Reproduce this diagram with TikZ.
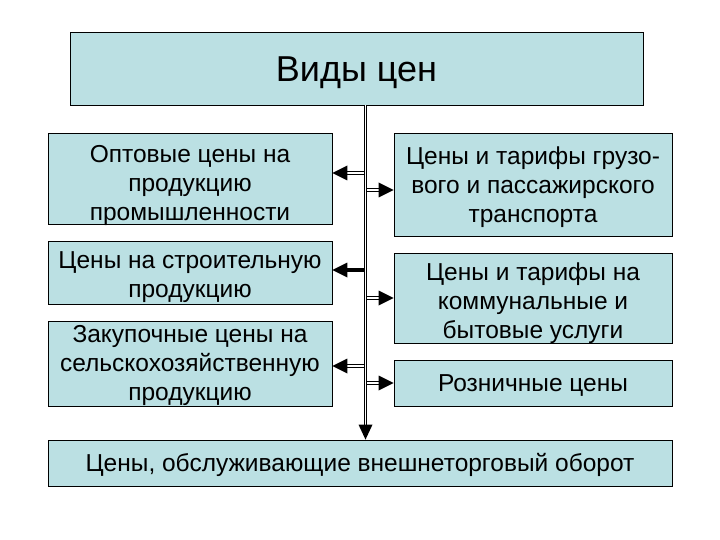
\documentclass[tikz,border=0pt]{standalone}
\usepackage{fontspec}
\setmainfont{Liberation Sans}
\definecolor{vcfill}{RGB}{187,224,227}
% box text: rows of fixed pitch, lowered into the box without changing its size
\newcommand{\vctext}[2][-8.5pt]{\raisebox{#1}[0pt][0pt]{\begin{tabular}{@{}c@{}}#2\end{tabular}}}
\tikzset{
  vcbox/.style={fill=vcfill, draw=black, line width=0.8pt, inner sep=0pt,
    font=\fontsize{24.5}{29}\selectfont},
  vctitle/.style={vcbox, font=\fontsize{36}{40}\selectfont},
  vcdbl/.style={draw=black, line width=0.9pt, double=white, double distance=1.8pt, shorten >=13pt},
  vcbold/.style={draw=black, line width=3.2pt, shorten >=13pt},
  vchead/.style={fill=black},
}
\begin{document}
\begin{tikzpicture}[x=1pt,y=-1pt]
\useasboundingbox[fill=white] (0,0) rectangle (720,540);
\node[vctitle, minimum width=573pt, minimum height=73pt] (vid) at (356.5,68.5) {\vctext[-11.5pt]{Виды цен}};
\node[vcbox, minimum width=284pt, minimum height=91pt] (opt) at (190,178.5) {\vctext[-13pt]{Оптовые цены на\\продукцию\\промышленности}};
\node[vcbox, minimum width=284pt, minimum height=63pt] (str) at (190,272.5) {\vctext[-10.5pt]{Цены на строительную\\продукцию}};
\node[vcbox, minimum width=284pt, minimum height=85pt] (zak) at (190,363.5) {\vctext{Закупочные цены на\\сельскохозяйственную\\продукцию}};
\node[vcbox, minimum width=278pt, minimum height=103pt] (trn) at (533,184.5) {\vctext[-9pt]{Цены и тарифы грузо-\\вого и пассажирского\\транспорта}};
\node[vcbox, minimum width=278pt, minimum height=90pt] (kom) at (533,298) {\vctext[-11.5pt]{Цены и тарифы на\\коммунальные и\\бытовые услуги}};
\node[vcbox, minimum width=278pt, minimum height=46pt] (roz) at (533,383) {\vctext{Розничные цены}};
\node[vcbox, minimum width=624pt, minimum height=46pt] (vnt) at (360,463) {\vctext{Цены, обслуживающие внешнеторговый оборот}};
% branches to the left
\coordinate (sp) at (365.5,0);
\draw[vcdbl] (sp |- 0,173) -- (opt.east |- 0,173);
\fill[vchead] (opt.east |- 0,173) -- ++(15,-7.5) -- ++(0,15) -- cycle;
\draw[vcbold] (sp |- 0,270) -- (str.east |- 0,270);
\fill[vchead] (str.east |- 0,270) -- ++(15,-7.5) -- ++(0,15) -- cycle;
\draw[vcdbl] (sp |- 0,366) -- (zak.east |- 0,366);
\fill[vchead] (zak.east |- 0,366) -- ++(15,-7.5) -- ++(0,15) -- cycle;
% branches to the right
\draw[vcdbl] (sp |- 0,190) -- (trn.west |- 0,190);
\fill[vchead] (trn.west |- 0,190) -- ++(-15,-7.5) -- ++(0,15) -- cycle;
\draw[vcdbl] (sp |- 0,298) -- (kom.west |- 0,298);
\fill[vchead] (kom.west |- 0,298) -- ++(-15,-7.5) -- ++(0,15) -- cycle;
\draw[vcdbl] (sp |- 0,383) -- (roz.west |- 0,383);
\fill[vchead] (roz.west |- 0,383) -- ++(-15,-7.5) -- ++(0,15) -- cycle;
% spine
\draw[vcdbl] (vid.south -| sp) -- (vnt.north -| sp);
\fill[vchead] (vnt.north -| sp) -- ++(-7,-15) -- ++(14,0) -- cycle;
\end{tikzpicture}
\end{document}
